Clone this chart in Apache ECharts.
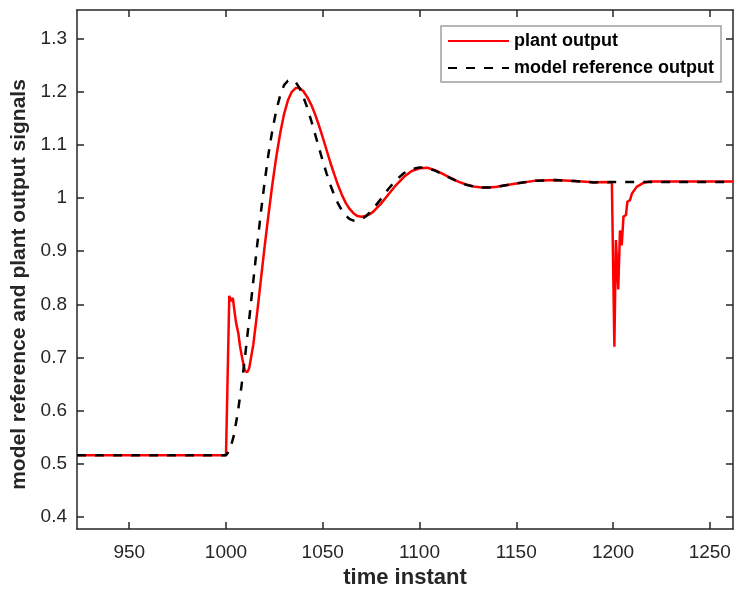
<!DOCTYPE html>
<html>
<head>
<meta charset="utf-8">
<script src="https://cdn.jsdelivr.net/npm/echarts@6/dist/echarts.min.js"></script>
<style>html,body{margin:0;padding:0;background:#fff;}#c{width:734px;height:594px;}</style>
</head>
<body>
<div id="c"></div>
<script>
// ---- data ----
var xTicks = [950, 1000, 1050, 1100, 1150, 1200, 1250];
var yTicks = [0.4, 0.5, 0.6, 0.7, 0.8, 0.9, 1.0, 1.1, 1.2, 1.3];

var refT = [923, 1000, 1002, 1004, 1006, 1008, 1010, 1012, 1014, 1016, 1018, 1020, 1022, 1024, 1026, 1028, 1030, 1032, 1034, 1036, 1038, 1040, 1042, 1044, 1046, 1048, 1050, 1052, 1054, 1056, 1058, 1060, 1062, 1064, 1066, 1068, 1070, 1072, 1076, 1080, 1084, 1088, 1092, 1096, 1100, 1104, 1108, 1112, 1116, 1120, 1124, 1128, 1132, 1136, 1140, 1150, 1160, 1170, 1180, 1190, 1200, 1262];
var refV = [0.516, 0.516, 0.5255, 0.5523, 0.5935, 0.646, 0.7068, 0.7723, 0.8403, 0.9077, 0.972, 1.0314, 1.0841, 1.1288, 1.1653, 1.1932, 1.2125, 1.2208, 1.2227, 1.2184, 1.2069, 1.19, 1.170, 1.1461, 1.1207, 1.0952, 1.0698, 1.046, 1.0241, 1.005, 0.9889, 0.976, 0.9664, 0.9602, 0.9575, 0.9578, 0.9601, 0.9647, 0.9796, 0.998, 1.0174, 1.0343, 1.0471, 1.0547, 1.0577, 1.0561, 1.0516, 1.0448, 1.0374, 1.0307, 1.0252, 1.0216, 1.0198, 1.0198, 1.0212, 1.0275, 1.0328, 1.0338, 1.0319, 1.0295, 1.030, 1.030];

var plantT = [923, 1000, 1001.7, 1002.6, 1003.5, 1004.3, 1005.2, 1006.4, 1007.2, 1008.6, 1009.8, 1011, 1012, 1014.1, 1016.2, 1018.1, 1020, 1022, 1024, 1026, 1028, 1030, 1032, 1034, 1036, 1038, 1040, 1042, 1044, 1046, 1048, 1050, 1052, 1054, 1056, 1058, 1060, 1062, 1064, 1066, 1068, 1070, 1072, 1074, 1076, 1080, 1084, 1088, 1092, 1096, 1100, 1104, 1108, 1112, 1116, 1120, 1124, 1128, 1132, 1136, 1140, 1150, 1160, 1170, 1180, 1190, 1199.4, 1200.7, 1201.5, 1202.7, 1203.6, 1204.5, 1205.4, 1206.7, 1207.4, 1208.8, 1209.7, 1212.2, 1215.7, 1219, 1230, 1262];
var plantV = [0.516, 0.516, 0.816, 0.806, 0.812, 0.809, 0.765, 0.745, 0.722, 0.694, 0.675, 0.672, 0.68, 0.724, 0.787, 0.849, 0.91, 0.97, 1.027, 1.078, 1.122, 1.158, 1.184, 1.200, 1.207, 1.207, 1.201, 1.19, 1.176, 1.158, 1.137, 1.114, 1.09, 1.066, 1.044, 1.023, 1.005, 0.99, 0.979, 0.971, 0.966, 0.965, 0.966, 0.969, 0.974, 0.989, 1.007, 1.025, 1.04, 1.051, 1.056, 1.057, 1.0525, 1.0455, 1.038, 1.031, 1.0255, 1.0218, 1.02, 1.0199, 1.0212, 1.0275, 1.0328, 1.0338, 1.0319, 1.0296, 1.030, 0.72, 0.921, 0.828, 0.939, 0.911, 0.965, 0.968, 0.993, 0.996, 1.008, 1.021, 1.0287, 1.031, 1.031, 1.031];

var seriesNames = ['plant output', 'model reference output'];

function zip(a, b) { return a.map(function (v, i) { return [v, b[i]]; }); }

var FONT = '"Liberation Sans", Arial, sans-serif';
var AX = '#262626';

var chart = echarts.init(document.getElementById('c'), null, { renderer: 'canvas' });

var xBase = {
  type: 'value', min: 923, max: 1262,
  splitLine: { show: false },
  axisLine: { show: true, onZero: false, lineStyle: { color: AX, width: 1.5 } },
  axisTick: { show: true, inside: true, length: 7, customValues: xTicks, lineStyle: { color: AX, width: 1.5 } }
};
var yBase = {
  type: 'value', min: 0.377, max: 1.354,
  splitLine: { show: false },
  axisLine: { show: true, onZero: false, lineStyle: { color: AX, width: 1.5 } },
  axisTick: { show: true, inside: true, length: 7, customValues: yTicks, lineStyle: { color: AX, width: 1.5 } }
};

chart.setOption({
  animation: false,
  backgroundColor: '#fff',
  grid: { left: 77, right: 1, top: 10, bottom: 62, containLabel: false },
  legend: {
    data: seriesNames,
    orient: 'vertical',
    left: 441, top: 26,
    padding: [6, 7, 5, 6],
    itemGap: 9,
    itemWidth: 61,
    itemHeight: 18,
    borderColor: '#a0a0a0',
    borderWidth: 1.5,
    backgroundColor: '#fff',
    borderRadius: 0,
    itemStyle: { opacity: 0 },
    textStyle: { fontFamily: FONT, fontWeight: 'bold', fontSize: 18, color: '#000' }
  },
  xAxis: [
    Object.assign({}, xBase, {
      position: 'bottom',
      name: 'time instant', nameLocation: 'middle', nameGap: 38,
      nameTextStyle: { fontFamily: FONT, fontWeight: 'bold', fontSize: 22, color: AX },
      axisLabel: { show: true, customValues: xTicks, margin: 14, fontFamily: FONT, fontSize: 19, color: AX,
        formatter: function (v) { return String(v); } }
    }),
    Object.assign({}, xBase, { position: 'top', axisLabel: { show: false } })
  ],
  yAxis: [
    Object.assign({}, yBase, {
      position: 'left',
      name: 'model reference and plant output signals', nameLocation: 'middle', nameGap: 35,
      nameTextStyle: { fontFamily: FONT, fontWeight: 'bold', fontSize: 21, color: AX, padding: [0, 30, 0, 0] },
      axisLabel: {
        show: true, customValues: yTicks, margin: 10, fontFamily: FONT, fontSize: 19, color: AX,
        formatter: function (v) { return String(Math.round(v * 10) / 10); }
      }
    }),
    Object.assign({}, yBase, { position: 'right', axisLabel: { show: false } })
  ],
  series: [
    {
      name: seriesNames[0], type: 'line', xAxisIndex: 0, yAxisIndex: 0,
      data: zip(plantT, plantV), showSymbol: false, symbol: 'none', smooth: false,
      lineStyle: { color: '#ff0000', width: 2.5 }, itemStyle: { color: '#ff0000' }, z: 2
    },
    {
      name: seriesNames[1], type: 'line', xAxisIndex: 0, yAxisIndex: 0,
      data: zip(refT, refV), showSymbol: false, symbol: 'none', smooth: false,
      lineStyle: { color: '#000', width: 2.5, type: [9, 9] }, itemStyle: { color: '#000' }, z: 3
    }
  ]
});
</script>
</body>
</html>
